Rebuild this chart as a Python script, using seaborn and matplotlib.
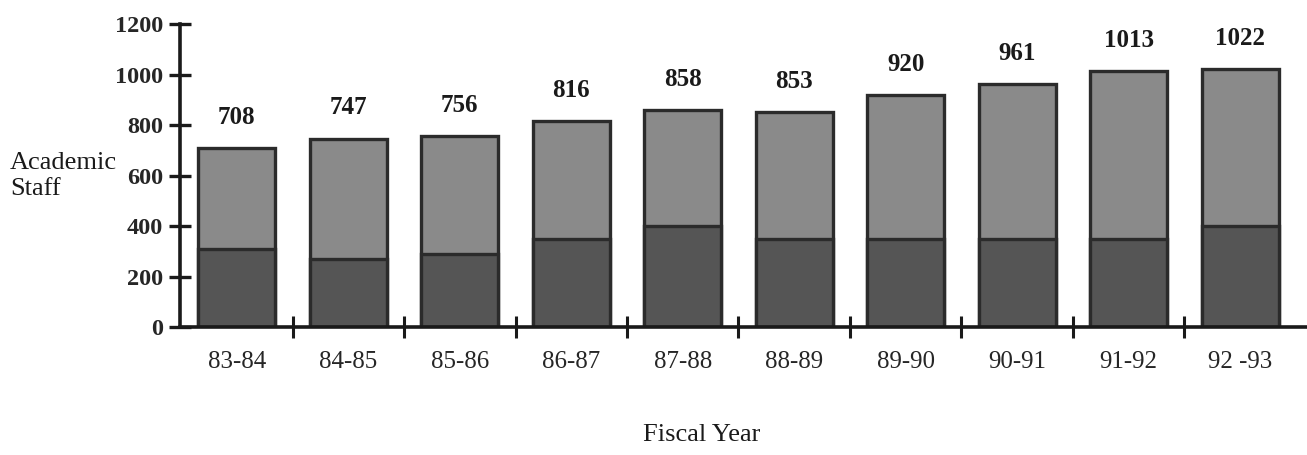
import matplotlib
matplotlib.use("Agg")
import matplotlib.pyplot as plt
import seaborn as sns
import pandas as pd
import numpy as np

years = ["83-84", "84-85", "85-86", "86-87", "87-88", "88-89", "89-90", "90-91", "91-92", "92 -93"]
total_staff = [708, 747, 756, 816, 858, 853, 920, 961, 1013, 1022]
lower_band = [310, 270, 290, 350, 400, 350, 350, 350, 350, 400]
y_ticks = [0, 200, 400, 600, 800, 1000, 1200]

sns.set_theme(style="white")
plt.rcParams['font.family'] = ['Liberation Serif', 'DejaVu Serif']

df = pd.DataFrame({"year": years, "total": total_staff, "lower": lower_band})

fig = plt.figure(figsize=(13.07, 4.55), dpi=100)
ax = fig.add_axes([0.1377, 0.281, 0.8623, 0.666])

sns.barplot(data=df, x="year", y="total", color="#8a8a8a", saturation=1,
            width=0.69, edgecolor="#2b2b2b", linewidth=2.4, ax=ax)
sns.barplot(data=df, x="year", y="lower", color="#555555", saturation=1,
            width=0.69, edgecolor="#2b2b2b", linewidth=2.4, ax=ax)

ax.set_xlim(-0.51, 9.6)
ax.set_ylim(0, 1200)
ax.set_yticks(y_ticks)
ax.set_xlabel("")
ax.set_ylabel("")

for s in ["top", "right"]:
    ax.spines[s].set_visible(False)
for s in ["left", "bottom"]:
    ax.spines[s].set_linewidth(2.6)
    ax.spines[s].set_color("#1a1a1a")

ax.tick_params(axis="y", direction="inout", length=16, width=2.4, color="#1a1a1a",
               labelsize=17.5, pad=4, left=True)
ax.tick_params(axis="x", which="major", length=0, labelsize=18, pad=17)
ax.set_xticks(np.arange(0.5, 9.5, 1.0), minor=True)
ax.tick_params(axis="x", which="minor", direction="inout", length=16, width=2.2,
               color="#1a1a1a", bottom=True)
for lab in ax.get_yticklabels():
    lab.set_fontweight("bold")

for i, v in enumerate(total_staff):
    ax.annotate(str(v), xy=(i, v), xytext=(0, 22), textcoords="offset points",
                ha="center", va="center", fontsize=18, fontweight="bold", color="#1a1a1a")

fig.text(10 / 1307, 1 - 176 / 455, "Academic\nStaff", ha="left", va="center",
         fontsize=19, multialignment="left", color="#1a1a1a", linespacing=1.25)
fig.text(702 / 1307, 1 - 435 / 455, "Fiscal Year", ha="center", va="center",
         fontsize=19, color="#1a1a1a")

fig.savefig("out.png", dpi=100)
